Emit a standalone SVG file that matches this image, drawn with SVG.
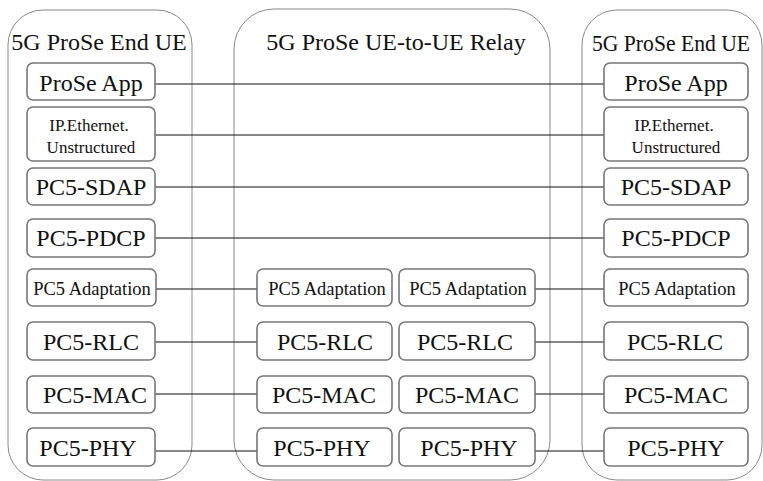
<svg xmlns="http://www.w3.org/2000/svg" width="763" height="481" viewBox="0 0 763 481">
<style>
.cont{fill:none;stroke:#8a8a8a;stroke-width:1}
.box{fill:#fff;stroke:#777;stroke-width:1.6}
text{font-family:'Liberation Serif','DejaVu Serif','Times New Roman',serif;fill:#111;text-anchor:middle}
.t{font-size:24px}
.b{font-size:24px}
.s{font-size:18.5px}
.x{font-size:17px}
.ln{stroke:#111;stroke-width:1;fill:none}
</style>
<rect width="763" height="481" fill="#fff"/>
<g id="end-ue-left">
<rect class="cont" x="8" y="10" width="184" height="470" rx="35" ry="35"/>
<text class="t" x="99" y="50">5G ProSe End UE</text>
</g>
<g id="relay">
<rect class="cont" x="234" y="9" width="316" height="471" rx="40" ry="40"/>
<text class="t" x="396" y="50">5G ProSe UE-to-UE Relay</text>
</g>
<g id="end-ue-right">
<rect class="cont" x="582" y="10" width="180" height="470" rx="35" ry="35"/>
<text class="t" x="671" y="51" font-size="23" textLength="158" lengthAdjust="spacingAndGlyphs">5G ProSe End UE</text>
</g>
<g id="connectors">
<line class="ln" x1="155" y1="84" x2="604" y2="84"/>
<line class="ln" x1="155" y1="135" x2="604" y2="135"/>
<line class="ln" x1="155" y1="187" x2="604" y2="187"/>
<line class="ln" x1="155" y1="238" x2="604" y2="238"/>
<line class="ln" x1="155" y1="289" x2="257" y2="289"/>
<line class="ln" x1="535" y1="289" x2="604" y2="289"/>
<line class="ln" x1="155" y1="342" x2="257" y2="342"/>
<line class="ln" x1="535" y1="342" x2="604" y2="342"/>
<line class="ln" x1="155" y1="394" x2="257" y2="394"/>
<line class="ln" x1="535" y1="394" x2="604" y2="394"/>
<line class="ln" x1="155" y1="451" x2="257" y2="451"/>
<line class="ln" x1="535" y1="451" x2="604" y2="451"/>
</g>
<g id="l-app"><rect class="box" x="27" y="63" width="128" height="37" rx="6"/><text class="b" x="91" y="91">ProSe App</text></g>
<g id="l-ip"><rect class="box" x="27" y="107" width="128" height="54" rx="6"/><text class="x" x="89" y="131">IP.Ethernet.</text><text class="x" x="91" y="153">Unstructured</text></g>
<g id="l-sdap"><rect class="box" x="27" y="168" width="128" height="37" rx="6"/><text class="b" x="91" y="195">PC5-SDAP</text></g>
<g id="l-pdcp"><rect class="box" x="27" y="219" width="128" height="38" rx="6"/><text class="b" x="91" y="246">PC5-PDCP</text></g>
<g id="l-adapt"><rect class="box" x="27" y="269" width="129" height="37" rx="6"/><text class="s" x="92" y="295">PC5 Adaptation</text></g>
<g id="l-rlc"><rect class="box" x="27" y="322" width="128" height="38" rx="6"/><text class="b" x="91" y="350">PC5-RLC</text></g>
<g id="l-mac"><rect class="box" x="27" y="376" width="128" height="37" rx="6"/><text class="b" x="95" y="403">PC5-MAC</text></g>
<g id="l-phy"><rect class="box" x="27" y="428" width="128" height="38" rx="6"/><text class="b" x="88" y="456">PC5-PHY</text></g>
<g id="ml-adapt"><rect class="box" x="257" y="269" width="135" height="37" rx="6"/><text class="s" x="327" y="295">PC5 Adaptation</text></g>
<g id="ml-rlc"><rect class="box" x="257" y="322" width="135" height="38" rx="6"/><text class="b" x="325" y="350">PC5-RLC</text></g>
<g id="ml-mac"><rect class="box" x="257" y="376" width="135" height="37" rx="6"/><text class="b" x="324" y="403">PC5-MAC</text></g>
<g id="ml-phy"><rect class="box" x="257" y="428" width="135" height="38" rx="6"/><text class="b" x="322" y="456">PC5-PHY</text></g>
<g id="mr-adapt"><rect class="box" x="399" y="269" width="136" height="37" rx="6"/><text class="s" x="468" y="295">PC5 Adaptation</text></g>
<g id="mr-rlc"><rect class="box" x="399" y="322" width="136" height="38" rx="6"/><text class="b" x="465" y="350">PC5-RLC</text></g>
<g id="mr-mac"><rect class="box" x="399" y="376" width="136" height="37" rx="6"/><text class="b" x="467" y="403">PC5-MAC</text></g>
<g id="mr-phy"><rect class="box" x="399" y="428" width="136" height="38" rx="6"/><text class="b" x="469" y="456">PC5-PHY</text></g>
<g id="r-app"><rect class="box" x="604" y="63" width="144" height="37" rx="6"/><text class="b" x="676" y="91">ProSe App</text></g>
<g id="r-ip"><rect class="box" x="604" y="107" width="144" height="54" rx="6"/><text class="x" x="674" y="131">IP.Ethernet.</text><text class="x" x="676" y="153">Unstructured</text></g>
<g id="r-sdap"><rect class="box" x="604" y="168" width="144" height="37" rx="6"/><text class="b" x="676" y="195">PC5-SDAP</text></g>
<g id="r-pdcp"><rect class="box" x="604" y="219" width="144" height="38" rx="6"/><text class="b" x="676" y="246">PC5-PDCP</text></g>
<g id="r-adapt"><rect class="box" x="604" y="269" width="144" height="37" rx="6"/><text class="s" x="677" y="295">PC5 Adaptation</text></g>
<g id="r-rlc"><rect class="box" x="604" y="322" width="144" height="38" rx="6"/><text class="b" x="675" y="350">PC5-RLC</text></g>
<g id="r-mac"><rect class="box" x="604" y="376" width="144" height="37" rx="6"/><text class="b" x="676" y="403">PC5-MAC</text></g>
<g id="r-phy"><rect class="box" x="604" y="428" width="144" height="38" rx="6"/><text class="b" x="676" y="456">PC5-PHY</text></g>
</svg>
